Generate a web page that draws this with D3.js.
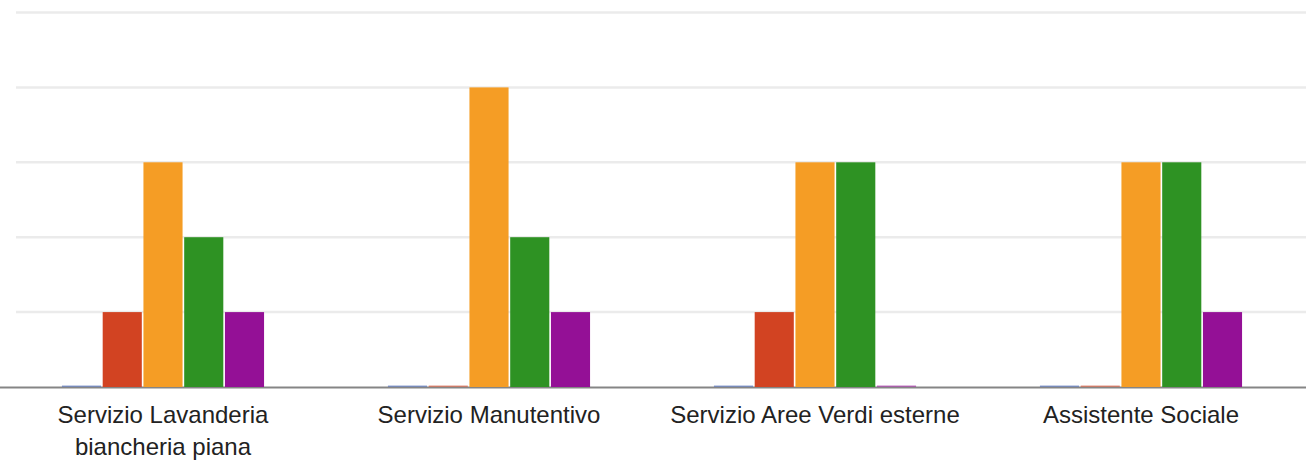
<!DOCTYPE html>
<html>
<head>
<meta charset="utf-8">
<script src="https://cdn.jsdelivr.net/npm/d3@7"></script>
<style>
  html, body { margin: 0; padding: 0; background: #fff; }
  #chart { width: 1306px; height: 462px; }
  text { font-family: "Liberation Sans", Arial, sans-serif; }
</style>
</head>
<body>
<div id="chart"></div>
<script>
// --- Data ---
const categories = [
  ["Servizio Lavanderia", "biancheria piana"],
  ["Servizio Manutentivo"],
  ["Servizio Aree Verdi esterne"],
  ["Assistente Sociale"]
];
const seriesNames = ["s1", "s2", "s3", "s4", "s5"];
const seriesColors = ["#3c5cb0", "#d24322", "#f59d25", "#2e9223", "#941096"];
const values = [
  [0, 1, 3, 2, 1],
  [0, 0, 4, 2, 1],
  [0, 1, 3, 3, 0],
  [0, 0, 3, 3, 1]
];
const yTicks = [0, 1, 2, 3, 4, 5];

// --- Layout ---
const width = 1306, height = 462;
const svg = d3.select('#chart').append('svg').attr('width', width).attr('height', height);

const catKeys = categories.map((c, i) => i);
const x0 = d3.scaleBand().domain(catKeys).range([0, 1304])
  .paddingInner(0.38).paddingOuter(0.19);
const x1 = d3.scaleBand().domain(seriesNames).range([0, x0.bandwidth()]).paddingInner(0.04);
const y = d3.scaleLinear().domain([0, 5]).range([387, 12.5]);

// gridlines
svg.append('g').selectAll('line')
  .data(yTicks.slice(1))
  .join('line')
  .attr('x1', 16).attr('x2', width)
  .attr('y1', d => y(d)).attr('y2', d => y(d))
  .attr('stroke', '#ebebeb')
  .attr('stroke-width', 2.5);

// baseline
svg.append('line')
  .attr('x1', 0).attr('x2', width)
  .attr('y1', y(0) + 0.5).attr('y2', y(0) + 0.5)
  .attr('stroke', '#858585')
  .attr('stroke-width', 2);

// bars
const groups = svg.append('g').selectAll('g')
  .data(values)
  .join('g')
  .attr('transform', (d, i) => `translate(${x0(i)},0)`);

groups.selectAll('rect')
  .data(d => d.map((v, j) => ({ v, j })))
  .join('rect')
  .attr('x', d => x1(seriesNames[d.j]))
  .attr('width', x1.bandwidth())
  .attr('y', d => d.v === 0 ? y(0) - 1.5 : y(d.v))
  .attr('height', d => d.v === 0 ? 1.5 : y(0) - y(d.v))
  .attr('fill', d => seriesColors[d.j])
  .attr('fill-opacity', d => d.v === 0 ? 0.55 : 1);

// category labels
const labels = svg.append('g').selectAll('text')
  .data(categories)
  .join('text')
  .attr('x', (d, i) => x0(i) + x0.bandwidth() / 2)
  .attr('y', 423)
  .attr('text-anchor', 'middle')
  .attr('font-size', 24)
  .attr('fill', '#222');

labels.selectAll('tspan')
  .data(d => d)
  .join('tspan')
  .attr('x', function() { return this.parentNode.getAttribute('x'); })
  .attr('dy', (d, i) => i === 0 ? 0 : 32)
  .text(d => d);
</script>
</body>
</html>
